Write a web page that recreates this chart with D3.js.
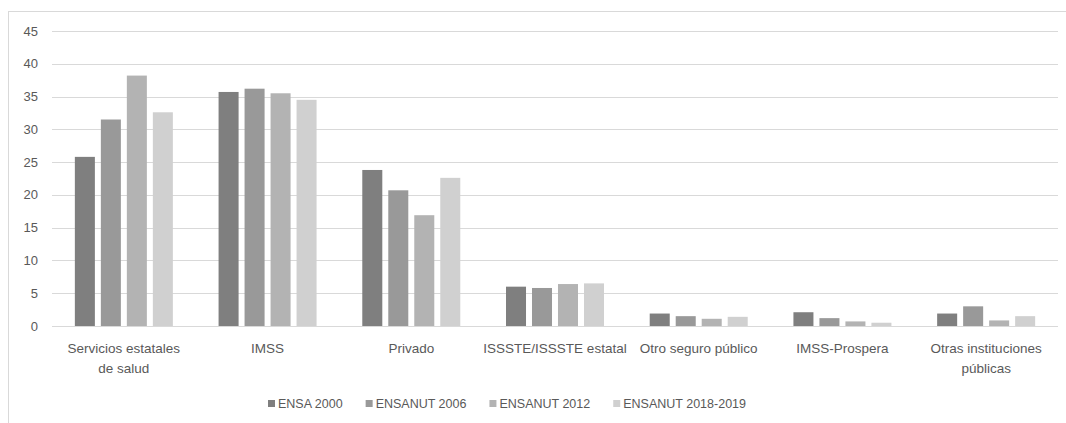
<!DOCTYPE html>
<html>
<head>
<script src="https://d3js.org/d3.v7.min.js"></script>
<style>
  body { margin: 0; background: #fff; font-family: 'Liberation Sans', Arial, sans-serif; }
  svg text { fill: #595959; }
</style>
</head>
<body>
<div id="chart"></div>
<script>
// Data
const categories = ["Servicios estatales de salud", "IMSS", "Privado", "ISSSTE/ISSSTE estatal",
                    "Otro seguro público", "IMSS-Prospera", "Otras instituciones públicas"];
const categoryLines = [["Servicios estatales", "de salud"], ["IMSS"], ["Privado"], ["ISSSTE/ISSSTE estatal"],
                       ["Otro seguro público"], ["IMSS-Prospera"], ["Otras instituciones", "públicas"]];
const seriesNames = ["ENSA 2000", "ENSANUT 2006", "ENSANUT 2012", "ENSANUT 2018-2019"];
const ensa2000    = [25.8, 35.7, 23.8, 6.0, 1.9, 2.1, 1.9];
const ensanut2006 = [31.5, 36.2, 20.7, 5.8, 1.5, 1.2, 3.0];
const ensanut2012 = [38.2, 35.5, 16.9, 6.4, 1.1, 0.7, 0.85];
const ensanut2018 = [32.6, 34.5, 22.6, 6.5, 1.4, 0.5, 1.5];
const yTicks = [0, 5, 10, 15, 20, 25, 30, 35, 40, 45];
const colors = ["#7f7f7f", "#999999", "#b3b3b3", "#d0d0d0"];

const series = [ensa2000, ensanut2006, ensanut2012, ensanut2018];

const width = 1066, height = 423;
const plot = { left: 52, right: 1058, top: 31, bottom: 326 };
const groupWidth = 98;

const svg = d3.select("#chart").append("svg")
    .attr("width", width).attr("height", height);

// outer chart border
svg.append("rect")
    .attr("x", 8.5).attr("y", 11.5)
    .attr("width", 1070).attr("height", 430)
    .attr("fill", "none").attr("stroke", "#d9d9d9");

const x = d3.scaleBand().domain(categories).range([plot.left, plot.right]);
const x1 = d3.scaleBand().domain(seriesNames)
    .range([0, groupWidth]).paddingInner(0.23);
const y = d3.scaleLinear().domain([0, 45]).range([plot.bottom, plot.top]);

// gridlines
svg.append("g").selectAll("line").data(yTicks).join("line")
    .attr("x1", plot.left).attr("x2", plot.right)
    .attr("y1", d => Math.round(y(d)) + 0.5).attr("y2", d => Math.round(y(d)) + 0.5)
    .attr("stroke", "#d9d9d9").attr("stroke-width", 1);

// y labels
svg.append("g").selectAll("text").data(yTicks).join("text")
    .attr("x", 38).attr("y", d => y(d))
    .attr("dy", "0.35em")
    .attr("text-anchor", "end")
    .style("font-size", "13px")
    .text(d => d);

// bars
const groups = svg.append("g").selectAll("g").data(categories).join("g")
    .attr("transform", c => `translate(${x(c) + x.bandwidth() / 2 - groupWidth / 2},0)`);

groups.selectAll("rect")
    .data((c, i) => series.map((s, j) => ({ name: seriesNames[j], value: s[i], color: colors[j] })))
    .join("rect")
    .attr("x", d => x1(d.name))
    .attr("width", x1.bandwidth())
    .attr("y", d => y(d.value))
    .attr("height", d => y(0) - y(d.value))
    .attr("fill", d => d.color);

// x labels
const xl = svg.append("g").selectAll("text").data(categories).join("text")
    .attr("x", c => x(c) + x.bandwidth() / 2)
    .attr("y", 353)
    .attr("text-anchor", "middle")
    .style("font-size", "13.5px");
xl.selectAll("tspan").data((c, i) => categoryLines[i]).join("tspan")
    .attr("x", function() { return this.parentNode.getAttribute("x"); })
    .attr("dy", (d, i) => i === 0 ? 0 : 20)
    .text(d => d);

// legend
const legend = svg.append("g").attr("transform", "translate(268,404)");
let lx = 0;
seriesNames.forEach((name, i) => {
    const g = legend.append("g").attr("transform", `translate(${lx},0)`);
    g.append("rect").attr("x", 0).attr("y", -4).attr("width", 7).attr("height", 7)
        .attr("fill", colors[i]);
    const t = g.append("text").attr("x", 10).attr("dy", "0.35em")
        .style("font-size", "12.5px").text(name);
    lx += 10 + t.node().getComputedTextLength() + 23;
});
</script>
</body>
</html>
